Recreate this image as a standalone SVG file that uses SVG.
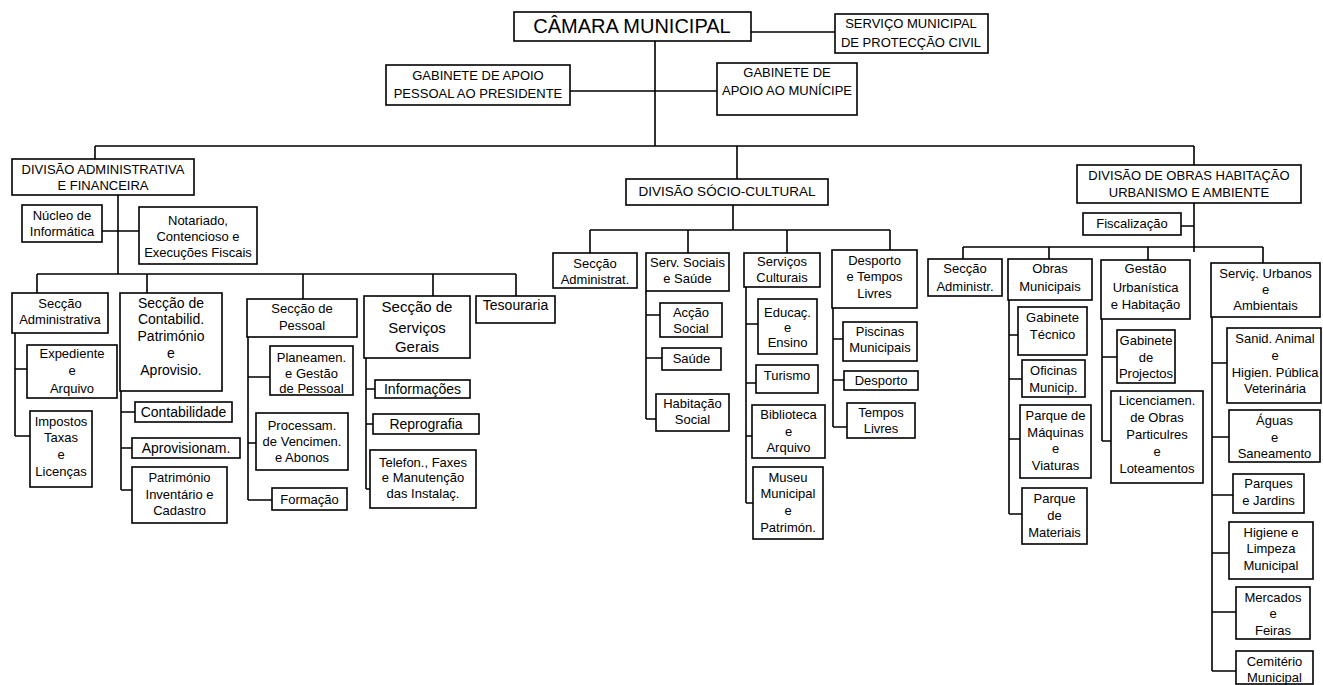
<svg xmlns="http://www.w3.org/2000/svg" width="1323" height="685" viewBox="0 0 1323 685">
<style>
rect{fill:#fff;stroke:#000;stroke-width:1.6}
text{font-family:"Liberation Sans",Arial,sans-serif;font-size:13px;fill:#000;text-anchor:middle}
.c{fill:none;stroke:#000;stroke-width:1.6}
.big{font-size:20px}
.m{font-size:14px}
.l{font-size:15px}
</style>
<rect x="0" y="0" width="1323" height="685" style="fill:#fff;stroke:none"/>
<g id="connectors">
<path class="c" d="M751 32H835 M655 41V146 M570 91H717 M95 146H1194 M95 146V159 M737 146V179 M1194 146V165
M118 195V274 M102 231H139 M37 274H516 M37 274V293 M147 274V293 M303 274V299 M433 274V296 M516 274V296
M15 333V436 M15 369H27 M15 436H30
M121 391V490 M121 412H135 M121 448H132 M121 490H132
M248 337V500 M248 377H270 M248 443H256 M248 500H272
M366 358V489 M366 389H375 M366 424H373 M366 489H370
M733 205V230 M590 230H890 M590 230V253 M688 230V253 M787 230V253 M890 230V250
M646 291V419 M646 315H660 M646 358H662 M646 419H656
M746 287V503 M746 324H758 M746 383H756 M746 436H752 M746 503H753
M833 308V427 M833 339H843 M833 380H844 M833 427H847
M1194 203V252 M1181 226H1194 M963 247H1263 M963 247V259 M1049 247V259 M1148 247V260 M1263 247V263
M1009 300V514 M1009 335H1018 M1009 379H1022 M1009 439H1020 M1009 514H1022
M1102 319V441 M1102 357H1117 M1102 441H1111
M1212 317V671 M1212 363H1227 M1212 437H1229 M1212 495H1233 M1212 553H1229 M1212 612H1236 M1212 671H1236"/>
</g>
<g id="camara"><rect x="514" y="12" width="237" height="29"/><text class="big" x="632" y="33">CÂMARA MUNICIPAL</text></g>
<g id="servico-protecao-civil"><rect x="835" y="14" width="153" height="39"/><text x="911"><tspan x="911" y="27.5">SERVIÇO MUNICIPAL</tspan><tspan x="911" y="46.5">DE PROTECÇÃO CIVIL</tspan></text></g>
<g id="gabinete-presidente"><rect x="386" y="65" width="184" height="40"/><text x="478"><tspan x="478" y="79.5">GABINETE DE APOIO</tspan><tspan x="478" y="97.5">PESSOAL AO PRESIDENTE</tspan></text></g>
<g id="gabinete-municipe"><rect x="717" y="63" width="140" height="52"/><text x="787"><tspan x="787" y="76.5">GABINETE DE</tspan><tspan x="787" y="94.5">APOIO AO MUNÍCIPE</tspan></text></g>

<g id="div-admin"><rect x="12" y="159" width="182" height="36"/><text x="103"><tspan x="103" y="173.5">DIVISÃO ADMINISTRATIVA</tspan><tspan x="103" y="189.5">E FINANCEIRA</tspan></text></g>
<g id="nucleo"><rect x="22" y="205" width="80" height="37"/><text x="62"><tspan x="62" y="219.5">Núcleo de</tspan><tspan x="62" y="235.5">Informática</tspan></text></g>
<g id="notariado"><rect x="139" y="207" width="118" height="57"/><text x="198"><tspan x="198" y="224.5">Notariado,</tspan><tspan x="198" y="240.5">Contencioso e</tspan><tspan x="198" y="256.5">Execuções Fiscais</tspan></text></g>
<g id="sec-admin"><rect x="12" y="293" width="96" height="40"/><text x="60"><tspan x="60" y="307.5">Secção</tspan><tspan x="60" y="323.5">Administrativa</tspan></text></g>
<g id="expediente"><rect x="27" y="345" width="90" height="53"/><text x="72"><tspan x="72" y="357.5">Expediente</tspan><tspan x="72" y="374.5">e</tspan><tspan x="72" y="392.5">Arquivo</tspan></text></g>
<g id="impostos"><rect x="30" y="411" width="62" height="76"/><text x="61"><tspan x="61" y="425.5">Impostos</tspan><tspan x="61" y="441.5">Taxas</tspan><tspan x="61" y="458.5">e</tspan><tspan x="61" y="475.5">Licenças</tspan></text></g>
<g id="sec-contab"><rect x="120" y="293" width="102" height="98"/><text class="m" x="171"><tspan x="171" y="308">Secção de</tspan><tspan x="171" y="324">Contabilid.</tspan><tspan x="171" y="341">Património</tspan><tspan x="171" y="358">e</tspan><tspan x="171" y="375">Aprovisio.</tspan></text></g>
<g id="contabilidade"><rect x="135" y="402" width="97" height="20"/><text class="m" x="183.5" y="417">Contabilidade</text></g>
<g id="aprovisionam"><rect x="132" y="438" width="108" height="20"/><text class="m" x="186" y="453">Aprovisionam.</text></g>
<g id="patrimonio"><rect x="132" y="467" width="95" height="56"/><text x="179.5"><tspan x="179.5" y="481.5">Património</tspan><tspan x="179.5" y="498.5">Inventário e</tspan><tspan x="179.5" y="514.5">Cadastro</tspan></text></g>
<g id="sec-pessoal"><rect x="247" y="299" width="110" height="38"/><text x="302"><tspan x="302" y="312.5">Secção de</tspan><tspan x="302" y="329.5">Pessoal</tspan></text></g>
<g id="planeamen"><rect x="270" y="346" width="83" height="49"/><text x="311.5"><tspan x="311.5" y="361.5">Planeamen.</tspan><tspan x="311.5" y="377.5">e Gestão</tspan><tspan x="311.5" y="392.5">de Pessoal</tspan></text></g>
<g id="processam"><rect x="256" y="413" width="92" height="57"/><text x="302"><tspan x="302" y="429.5">Processam.</tspan><tspan x="302" y="445.5">de Vencimen.</tspan><tspan x="302" y="461.5">e Abonos</tspan></text></g>
<g id="formacao"><rect x="272" y="488" width="75" height="22"/><text x="309.5" y="503.5">Formação</text></g>
<g id="sec-servicos-gerais"><rect x="364" y="296" width="106" height="62"/><text class="l" x="417"><tspan x="417" y="312">Secção de</tspan><tspan x="417" y="333">Serviços</tspan><tspan x="417" y="352">Gerais</tspan></text></g>
<g id="informacoes"><rect x="375" y="380" width="95" height="18"/><text class="m" x="422.5" y="394">Informações</text></g>
<g id="reprografia"><rect x="373" y="414" width="106" height="20"/><text class="m" x="426" y="429">Reprografia</text></g>
<g id="telefon"><rect x="370" y="450" width="106" height="58"/><text x="423"><tspan x="423" y="466.5">Telefon., Faxes</tspan><tspan x="423" y="481.5">e Manutenção</tspan><tspan x="423" y="497.5">das Instalaç.</tspan></text></g>
<g id="tesouraria"><rect x="476" y="296" width="79" height="27"/><text class="m" x="515.5" y="310">Tesouraria</text></g>

<g id="div-socio"><rect x="626" y="179" width="202" height="26"/><text x="727" y="196" style="font-size:13.5px">DIVISÃO SÓCIO-CULTURAL</text></g>
<g id="sec-administrat"><rect x="553" y="253" width="84" height="35"/><text x="595"><tspan x="595" y="267.5">Secção</tspan><tspan x="595" y="283.5">Administrat.</tspan></text></g>
<g id="serv-sociais"><rect x="646" y="253" width="83" height="38"/><text x="687.5"><tspan x="687.5" y="266.5">Serv. Sociais</tspan><tspan x="687.5" y="282.5">e Saúde</tspan></text></g>
<g id="accao-social"><rect x="660" y="303" width="62" height="34"/><text x="691"><tspan x="691" y="316.5">Acção</tspan><tspan x="691" y="332.5">Social</tspan></text></g>
<g id="saude"><rect x="662" y="348" width="59" height="22"/><text x="691.5" y="362.5">Saúde</text></g>
<g id="habitacao-social"><rect x="656" y="394" width="73" height="37"/><text x="692.5"><tspan x="692.5" y="407.5">Habitação</tspan><tspan x="692.5" y="423.5">Social</tspan></text></g>
<g id="servicos-culturais"><rect x="744" y="253" width="76" height="34"/><text x="782"><tspan x="782" y="265.5">Serviços</tspan><tspan x="782" y="281.5">Culturais</tspan></text></g>
<g id="educacao"><rect x="758" y="299" width="59" height="55"/><text x="787.5"><tspan x="787.5" y="316.5">Educaç.</tspan><tspan x="787.5" y="331.5">e</tspan><tspan x="787.5" y="346.5">Ensino</tspan></text></g>
<g id="turismo"><rect x="756" y="365" width="62" height="28"/><text x="787" y="379.5">Turismo</text></g>
<g id="biblioteca"><rect x="752" y="405" width="73" height="53"/><text x="788.5"><tspan x="788.5" y="418.5">Biblioteca</tspan><tspan x="788.5" y="435.5">e</tspan><tspan x="788.5" y="451.5">Arquivo</tspan></text></g>
<g id="museu"><rect x="753" y="467" width="70" height="72"/><text x="788"><tspan x="788" y="481.5">Museu</tspan><tspan x="788" y="497.5">Municipal</tspan><tspan x="788" y="514.5">e</tspan><tspan x="788" y="531.5">Patrimón.</tspan></text></g>
<g id="desporto-tempos"><rect x="832" y="250" width="85" height="58"/><text x="874.5"><tspan x="874.5" y="264.5">Desporto</tspan><tspan x="874.5" y="280.5">e Tempos</tspan><tspan x="874.5" y="297.5">Livres</tspan></text></g>
<g id="piscinas"><rect x="843" y="322" width="74" height="39"/><text x="880"><tspan x="880" y="335.5">Piscinas</tspan><tspan x="880" y="351.5">Municipais</tspan></text></g>
<g id="desporto"><rect x="844" y="371" width="74" height="19"/><text x="881" y="385">Desporto</text></g>
<g id="tempos-livres"><rect x="847" y="403" width="68" height="35"/><text x="881"><tspan x="881" y="416.5">Tempos</tspan><tspan x="881" y="432.5">Livres</tspan></text></g>

<g id="div-obras"><rect x="1077" y="165" width="224" height="38"/><text x="1189"><tspan x="1189" y="179.5">DIVISÃO DE OBRAS HABITAÇÃO</tspan><tspan x="1189" y="196.5">URBANISMO E AMBIENTE</tspan></text></g>
<g id="fiscalizacao"><rect x="1083" y="213" width="98" height="22"/><text x="1132" y="228">Fiscalização</text></g>
<g id="sec-administr"><rect x="928" y="259" width="74" height="37"/><text x="965"><tspan x="965" y="272.5">Secção</tspan><tspan x="965" y="290.5">Administr.</tspan></text></g>
<g id="obras-municipais"><rect x="1008" y="259" width="84" height="41"/><text x="1050"><tspan x="1050" y="272.5">Obras</tspan><tspan x="1050" y="290.5">Municipais</tspan></text></g>
<g id="gabinete-tecnico"><rect x="1018" y="307" width="69" height="48"/><text x="1052.5"><tspan x="1052.5" y="321.5">Gabinete</tspan><tspan x="1052.5" y="338.5">Técnico</tspan></text></g>
<g id="oficinas"><rect x="1022" y="360" width="63" height="37"/><text x="1053.5"><tspan x="1053.5" y="374.5">Oficinas</tspan><tspan x="1053.5" y="391.5">Municip.</tspan></text></g>
<g id="parque-maquinas"><rect x="1020" y="405" width="71" height="73"/><text x="1055.5"><tspan x="1055.5" y="419.5">Parque de</tspan><tspan x="1055.5" y="436.5">Máquinas</tspan><tspan x="1055.5" y="452.5">e</tspan><tspan x="1055.5" y="469.5">Viaturas</tspan></text></g>
<g id="parque-materiais"><rect x="1022" y="488" width="65" height="56"/><text x="1054.5"><tspan x="1054.5" y="502.5">Parque</tspan><tspan x="1054.5" y="519.5">de</tspan><tspan x="1054.5" y="536.5">Materiais</tspan></text></g>
<g id="gestao-urbanistica"><rect x="1101" y="260" width="89" height="59"/><text x="1145.5"><tspan x="1145.5" y="272.5">Gestão</tspan><tspan x="1145.5" y="291.5">Urbanística</tspan><tspan x="1145.5" y="308.5">e Habitação</tspan></text></g>
<g id="gabinete-projectos"><rect x="1117" y="330" width="58" height="53"/><text x="1146"><tspan x="1146" y="344.5">Gabinete</tspan><tspan x="1146" y="361.5">de</tspan><tspan x="1146" y="377.5">Projectos</tspan></text></g>
<g id="licenciamen"><rect x="1111" y="391" width="92" height="92"/><text x="1157"><tspan x="1157" y="404.5">Licenciamen.</tspan><tspan x="1157" y="421.5">de Obras</tspan><tspan x="1157" y="438.5">Particulres</tspan><tspan x="1157" y="455.5">e</tspan><tspan x="1157" y="472.5">Loteamentos</tspan></text></g>
<g id="servic-urbanos"><rect x="1211" y="263" width="109" height="54"/><text x="1265.5"><tspan x="1265.5" y="277.5">Serviç. Urbanos</tspan><tspan x="1265.5" y="293.5">e</tspan><tspan x="1265.5" y="309.5">Ambientais</tspan></text></g>
<g id="sanid-animal"><rect x="1227" y="328" width="94" height="75"/><text x="1275"><tspan x="1275" y="342.5">Sanid. Animal</tspan><tspan x="1275" y="359.5">e</tspan><tspan x="1275" y="376.5">Higien. Pública</tspan><tspan x="1275" y="392.5">Veterinária</tspan></text></g>
<g id="aguas"><rect x="1229" y="410" width="91" height="52"/><text x="1274.5"><tspan x="1274.5" y="424.5">Águas</tspan><tspan x="1274.5" y="441.5">e</tspan><tspan x="1274.5" y="457.5">Saneamento</tspan></text></g>
<g id="parques-jardins"><rect x="1233" y="474" width="71" height="39"/><text x="1268.5"><tspan x="1268.5" y="487.5">Parques</tspan><tspan x="1268.5" y="504.5">e Jardins</tspan></text></g>
<g id="higiene-limpeza"><rect x="1229" y="522" width="84" height="57"/><text x="1271"><tspan x="1271" y="536.5">Higiene e</tspan><tspan x="1271" y="552.5">Limpeza</tspan><tspan x="1271" y="569.5">Municipal</tspan></text></g>
<g id="mercados"><rect x="1236" y="587" width="74" height="52"/><text x="1273"><tspan x="1273" y="601.5">Mercados</tspan><tspan x="1273" y="617.5">e</tspan><tspan x="1273" y="634.5">Feiras</tspan></text></g>
<g id="cemiterio"><rect x="1236" y="651" width="77" height="33"/><text x="1274.5"><tspan x="1274.5" y="665.5">Cemitério</tspan><tspan x="1274.5" y="681.5">Municipal</tspan></text></g>
</svg>
